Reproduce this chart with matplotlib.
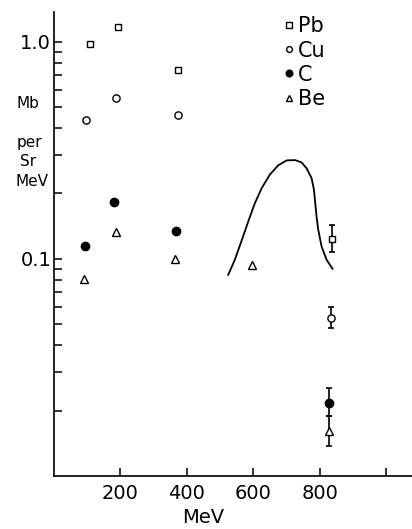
import numpy as np
import matplotlib
matplotlib.use("Agg")
import matplotlib.pyplot as plt

# energy (MeV) vs cross section (mb per sr MeV)
pb_x = [108, 192, 373, 836]
pb_y = [0.98, 1.17, 0.74, 0.124]
cu_x = [97, 186, 373, 833]
cu_y = [0.435, 0.55, 0.46, 0.0535]
c_x = [93, 180, 367, 827]
c_y = [0.115, 0.183, 0.135, 0.0218]
be_x = [90, 186, 364, 596, 827]
be_y = [0.081, 0.133, 0.10, 0.094, 0.0162]

# error bar limits for the last point of each series (low, high)
pb_err = [0.107, 0.143]
cu_err = [0.048, 0.060]
c_err = [0.0188, 0.0255]
be_err = [0.0138, 0.0188]

# the bell-shaped curve
curve_x = [524, 544, 565, 584, 604, 625, 650, 675, 700, 725, 745, 760,
           775, 782, 786, 790, 795, 805, 820, 838]
curve_y = [0.0844, 0.099, 0.122, 0.148, 0.180, 0.212, 0.245, 0.270, 0.284, 0.285,
           0.278, 0.261, 0.235, 0.208, 0.180, 0.156, 0.136, 0.114, 0.099, 0.090]

xticks = [200, 400, 600, 800, 1000]
xticklabels = ["200", "400", "600", "800", ""]

fig = plt.figure(figsize=(4.12, 5.29), dpi=100)
ax = fig.add_axes([54/412, 1 - 476/529, 1 - 54/412, (476 - 12)/529])

ax.set_yscale("log")
ax.set_xlim(0, 1077)
ax.set_ylim(0.01, 1.37)

kw = dict(color="black", linestyle="none", markeredgewidth=1.0)
h_pb, = ax.plot(pb_x, pb_y, marker="s", ms=4.8, mfc="white", label="Pb", **kw)
h_cu, = ax.plot(cu_x, cu_y, marker="o", ms=5.2, mfc="white", label="Cu", **kw)
h_c, = ax.plot(c_x, c_y, marker="o", ms=6, mfc="black", label="C", **kw)
h_be, = ax.plot(be_x, be_y, marker="^", ms=5.5, mfc="white", label="Be", **kw)

for xs, ys, err in [(pb_x, pb_y, pb_err), (cu_x, cu_y, cu_err),
                    (c_x, c_y, c_err), (be_x, be_y, be_err)]:
    y = ys[-1]
    ax.errorbar(xs[-1], y, yerr=[[y - err[0]], [err[1] - y]], fmt="none",
                ecolor="black", elinewidth=1.2, capsize=2.5, capthick=1.2, zorder=1)

ax.plot(curve_x, curve_y, color="black", lw=1.3)

for s in ["top", "right"]:
    ax.spines[s].set_visible(False)
for s in ["left", "bottom"]:
    ax.spines[s].set_linewidth(1.2)

ax.set_xticks(xticks)
ax.set_xticklabels(xticklabels)
ax.set_yticks([0.1, 1.0])
ax.set_yticklabels(["0.1", "1.0"])
ax.set_yticks([k * 0.01 for k in range(2, 10)] + [k * 0.1 for k in range(2, 10)], minor=True)
ax.yaxis.set_minor_formatter(plt.NullFormatter())
ax.tick_params(axis="both", which="both", direction="in", length=6, width=1.1, labelsize=14)
ax.tick_params(axis="x", pad=6)
ax.tick_params(axis="y", pad=2)

ax.set_xlabel("MeV", fontsize=14)
ax.xaxis.set_label_coords(0.416, -0.068)

fig.text(28/412, 1 - 104/529, "Mb", fontsize=11, ha="center", va="center")
fig.text(29/412, 1 - 142/529, "per", fontsize=11, ha="center", va="center")
fig.text(28/412, 1 - 162/529, "Sr", fontsize=11, ha="center", va="center")
fig.text(32/412, 1 - 182/529, "MeV", fontsize=11, ha="center", va="center")

ax.legend(handles=[h_pb, h_cu, h_c, h_be], loc="upper left",
          bbox_to_anchor=((273 - 54)/358, 1.013), frameon=False, fontsize=15,
          handlelength=0.5, handletextpad=0.2, labelspacing=0.2, borderpad=0,
          markerscale=0.8)

fig.savefig("out.png", dpi=100)
